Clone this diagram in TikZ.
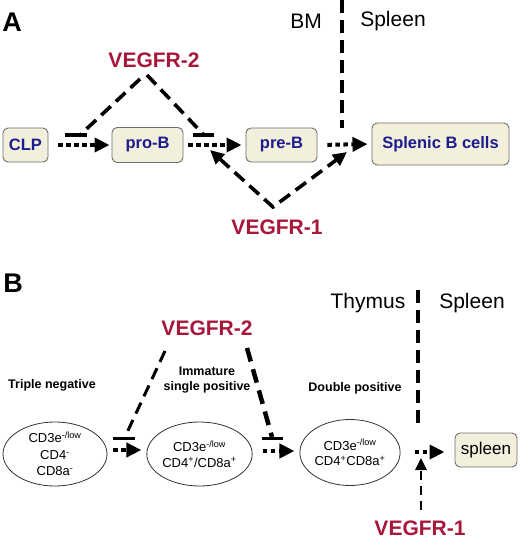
\documentclass[tikz,border=0pt]{standalone}
\usepackage{fontspec}
\setmainfont{Liberation Sans}
\usetikzlibrary{arrows.meta,shapes.geometric}
\definecolor{vred}{RGB}{168,22,58}
\definecolor{navy}{RGB}{28,28,140}
\definecolor{boxfill}{RGB}{242,239,220}
\definecolor{boxdraw}{RGB}{110,110,110}
\newcommand\fsz[1]{\fontsize{#1}{#1}\selectfont}
\tikzset{
  box/.style={draw=boxdraw, fill=boxfill, rounded corners=5pt, line width=0.9pt,
    inner sep=0pt, text=navy, font=\fsz{16.5}\bfseries},
  cell/.style={ellipse, draw=black!80, line width=0.8pt, inner sep=0pt,
    align=center, font=\fsz{13}},
  vlab/.style={text=vred, font=\fsz{21}\bfseries, inner sep=0pt},
  plab/.style={font=\fsz{27}\bfseries, inner sep=0pt},
  rlab/.style={font=\fsz{21}, inner sep=0pt},
  slab/.style={font=\fsz{12.5}\bfseries, inner sep=0pt, align=center},
  dotarrow/.style={line width=4pt, dash pattern=on 4.5pt off 3.5pt,
    -{Triangle[length=15pt,width=14pt]}},
  dashline/.style={line width=3.6pt, dash pattern=on 13pt off 7pt},
  barline/.style={line width=3.6pt},
  dasharrow/.style={line width=3.6pt, dash pattern=on 13pt off 7pt,
    {Triangle[length=14pt,width=13pt]}-{Triangle[length=14pt,width=13pt]}},
}
\begin{document}
\begin{tikzpicture}[x=1pt,y=-1pt]
\useasboundingbox (0,0) rectangle (520,539);
% ---------------- Panel A ----------------
\node[plab] (lA) at (12,22) {A};
\node[rlab] (bm) at (306,21) {BM};
\node[rlab] (spA) at (393,21) {Spleen};
\coordinate (divAt) at (342,0);
\coordinate (divAb) at (342,128);
\draw[dashline] (divAt) -- (divAb);

\node[box, minimum width=45pt, minimum height=34pt] (clp) at (25.5,145) {CLP};
\node[box, minimum width=71pt, minimum height=35pt] (prob) at (147.5,145) {pro-B};
\node[box, minimum width=71pt, minimum height=34pt] (preb) at (281.5,145) {pre-B};
\node[box, minimum width=137pt, minimum height=42pt] (spb) at (440.5,144) {Splenic B cells};

\draw[dotarrow, shorten <=10pt, shorten >=2pt] (clp.east) -- (prob.west);
\draw[dotarrow, shorten <=5pt, shorten >=4pt] (prob.east) -- (preb.west);
\draw[dotarrow, shorten <=10pt, shorten >=4pt] (preb.east) -- (spb.west);

\node[vlab] (v2A) at (154,60) {VEGFR-2};
\coordinate (v2Al) at (140,79);
\coordinate (v2Ar) at (147,75);
\coordinate (iA1) at (80,135);
\coordinate (iA1a) at (65,135);
\coordinate (iA1b) at (87,135);
\coordinate (iA2) at (204,135);
\coordinate (iA2a) at (193,135);
\coordinate (iA2b) at (214,135);
\draw[dashline] (v2Al) -- (iA1);
\draw[dashline] (v2Ar) -- (iA2);
\draw[barline] (iA1a) -- (iA1b);
\draw[barline] (iA2a) -- (iA2b);

\node[vlab] (v1A) at (277,227) {VEGFR-1};
\coordinate (apA) at (273,207);
\coordinate (tA1) at (210,150);
\coordinate (tA2) at (347,152);
\draw[dasharrow, line join=miter] (tA1) -- (apA) -- (tA2);

% ---------------- Panel B ----------------
\node[plab] (lB) at (13,283) {B};
\node[rlab] (thy) at (368,303) {Thymus};
\node[rlab] (spBl) at (472,303) {Spleen};
\coordinate (divBt) at (418,290);
\coordinate (divBb) at (418,427);
\draw[dashline] (divBt) -- (divBb);

\node[slab] (tn) at (52,385) {Triple negative};
\node[slab, font=\fontsize{12.5}{15}\selectfont\bfseries] (isp) at (207,380.5) {Immature\\single positive};
\node[slab] (dp) at (355,388) {Double positive};

\node[cell, minimum width=104pt, minimum height=64pt, font=\fontsize{13}{16.5}\selectfont] (e1) at (55,454)
  {CD3e\textsuperscript{-/low}\\CD4\textsuperscript{-}\\CD8a\textsuperscript{-}};
\node[cell, minimum width=95pt, minimum height=64pt, font=\fontsize{13}{15.5}\selectfont] (e2) at (199.5,454)
  {CD3e\textsuperscript{-/low}\\CD4\textsuperscript{+}/CD8a\textsuperscript{+}};
\node[cell, minimum width=97pt, minimum height=66pt, font=\fontsize{13}{15.5}\selectfont] (e3) at (350,452.5)
  {CD3e\textsuperscript{-/low}\\CD4\textsuperscript{+}CD8a\textsuperscript{+}};
\node[box, minimum width=62pt, minimum height=34pt, text=black, font=\fsz{17}] (spl) at (486,450) {spleen};

\draw[dotarrow, shorten <=6pt, shorten >=5pt] (e1.east |- 0,450) -- (e2.west |- 0,450);
\draw[dotarrow, shorten <=10pt, shorten >=5pt] (e2.east |- 0,451) -- (e3.west |- 0,451);
\draw[dotarrow, shorten <=14pt, shorten >=10pt] (e3.east |- 0,452) -- (spl.west |- 0,452);

\node[vlab] (v2B) at (207,328) {VEGFR-2};
\coordinate (v2Bl) at (165,351);
\coordinate (v2Br) at (247,348);
\coordinate (iB1) at (125,437);
\coordinate (iB1a) at (113,438);
\coordinate (iB1b) at (135,438);
\coordinate (iB2) at (272,437);
\coordinate (iB2a) at (262,438);
\coordinate (iB2b) at (283,438);
\draw[line width=3pt, dash pattern=on 12pt off 7pt] (v2Bl) -- (iB1);
\draw[line width=4.5pt, dash pattern=on 14pt off 8pt] (v2Br) -- (iB2);
\draw[line width=3pt] (iB1a) -- (iB1b);
\draw[line width=3pt] (iB2a) -- (iB2b);

\node[vlab] (v1B) at (420,528) {VEGFR-1};
\coordinate (v1Bs) at (421,510);
\coordinate (v1Bt) at (421,458);
\draw[line width=2.6pt, dash pattern=on 9pt off 6pt, -{Triangle[length=12pt,width=11pt]}] (v1Bs) -- (v1Bt);
\end{tikzpicture}
\end{document}
